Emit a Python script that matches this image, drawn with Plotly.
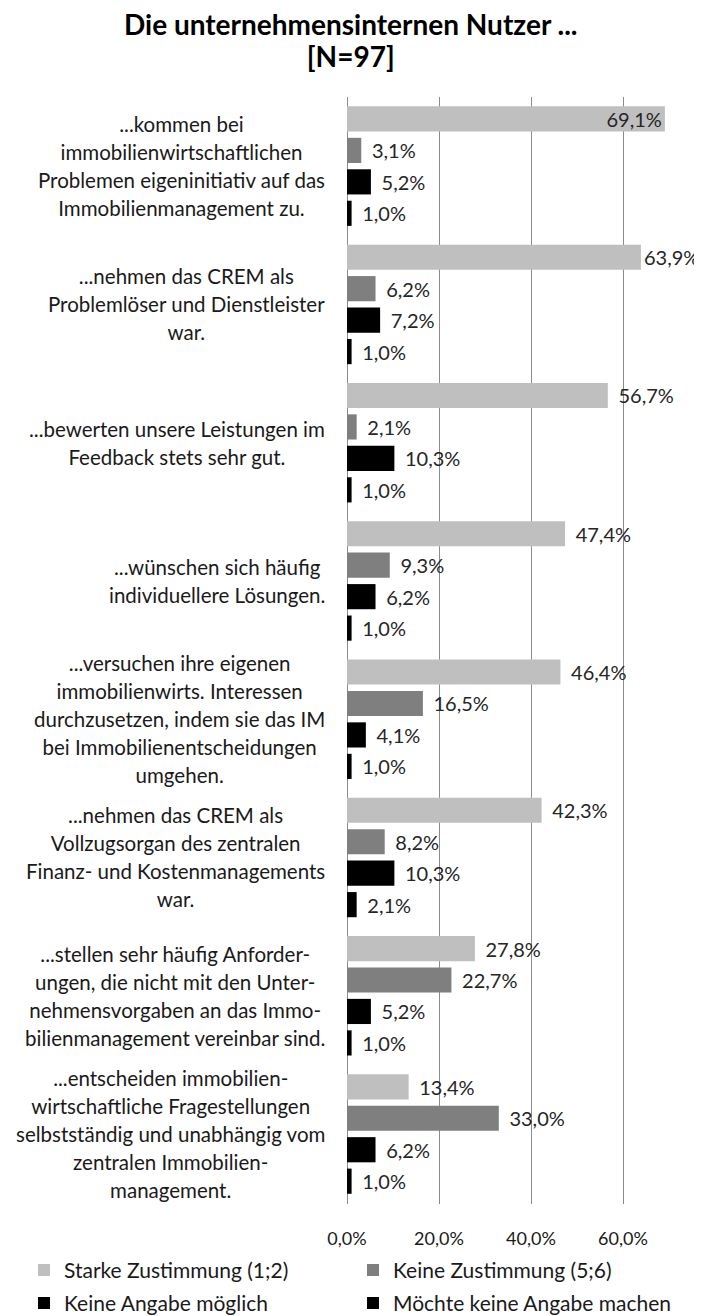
import plotly.graph_objects as go

# categories (top to bottom) and the four answer series, values in percent
categories = [
    "...kommen bei<br>immobilienwirtschaftlichen<br>Problemen eigeninitiativ auf das<br>Immobilienmanagement zu.",
    "...nehmen das CREM als<br>Problemlöser und Dienstleister<br>war.",
    "...bewerten unsere Leistungen im<br>Feedback stets sehr gut.",
    "...wünschen sich häufig<br>individuellere Lösungen.",
    "...versuchen ihre eigenen<br>immobilienwirts. Interessen<br>durchzusetzen, indem sie das IM<br>bei Immobilienentscheidungen<br>umgehen.",
    "...nehmen das CREM als<br>Vollzugsorgan des zentralen<br>Finanz- und Kostenmanagements<br>war.",
    "...stellen sehr häufig Anforder-<br>ungen, die nicht mit den Unter-<br>nehmensvorgaben an das Immo-<br>bilienmanagement vereinbar sind.",
    "...entscheiden immobilien-<br>wirtschaftliche Fragestellungen<br>selbstständig und unabhängig vom<br>zentralen Immobilien-<br>management.",
]

starke_zustimmung = [69.1, 63.9, 56.7, 47.4, 46.4, 42.3, 27.8, 13.4]
keine_zustimmung = [3.1, 6.2, 2.1, 9.3, 16.5, 8.2, 22.7, 33.0]
keine_angabe_moeglich = [5.2, 7.2, 10.3, 6.2, 4.1, 10.3, 5.2, 6.2]
keine_angabe_machen = [1.0, 1.0, 1.0, 1.0, 1.0, 2.1, 1.0, 1.0]

series_names = ["Starke Zustimmung (1;2)", "Keine Zustimmung (5;6)",
                "Keine Angabe möglich", "Möchte keine Angabe machen"]
series_values = [starke_zustimmung, keine_zustimmung, keine_angabe_moeglich, keine_angabe_machen]
series_colors = ["#bfbfbf", "#7f7f7f", "#000000", "#000000"]
series_legend = ["legend", "legend", "legend2", "legend2"]

title_lines = ["Die unternehmensinternen Nutzer ...", "[N=97]"]

FONT = "Lato"
x_max = 70


def sized_lines(lines, size):
    # keep the line pitch of the outer font while drawing the glyphs at `size`
    return "<br>".join(f'<span style="font-size:{size}px">{ln}</span>' for ln in lines)


fig = go.Figure()

for name, values, color, leg in zip(series_names, series_values, series_colors, series_legend):
    # Excel pulls a label back when it would run off the chart area
    positions = ["inside" if v > 0.95 * x_max else "outside" for v in values]
    templates = []
    for v, p in zip(values, positions):
        if p == "inside" or v > 0.85 * x_max:
            templates.append("%{text}")
        else:
            templates.append("\u00a0\u2009%{text}")
    fig.add_trace(go.Bar(
        y=categories, x=values, name=name, orientation="h",
        marker=dict(color=color, line=dict(width=0)),
        text=[f"{v:.1f}%".replace(".", ",") for v in values],
        texttemplate=templates,
        textposition=positions, insidetextanchor="end",
        textfont=dict(family=FONT, size=20, color="#262626"),
        insidetextfont=dict(family=FONT, size=20, color="#262626"),
        outsidetextfont=dict(family=FONT, size=20, color="#262626"),
        constraintext="none", cliponaxis=False, legend=leg,
        hoverinfo="skip",
    ))

# category labels: centred text blocks right-aligned against the axis
for cat in categories:
    fig.add_annotation(
        x=0, xref="paper", y=cat, yref="y", xanchor="right", xshift=-20,
        text=sized_lines(cat.split("<br>"), 20.5),
        align="center", showarrow=False,
        font=dict(family=FONT, size=21.5, color="#1a1a1a"),
    )

# chart title, centred on the page
fig.add_annotation(
    x=(351 - 347) / 322, xref="paper", y=1, yref="paper",
    xanchor="center", yanchor="bottom", yshift=22,
    text="<b>" + sized_lines(title_lines, 28) + "</b>", align="center", showarrow=False,
    font=dict(family=FONT, size=24.6, color="#000000"),
)

legend_common = dict(
    orientation="h", xanchor="left", yanchor="top", x=(24 - 347) / 322,
    entrywidth=284, entrywidthmode="pixels", itemwidth=30,
    font=dict(family=FONT, size=21, color="#1a1a1a"),
    bgcolor="rgba(0,0,0,0)", traceorder="normal",
)

# the page body has an 8px margin, so the figure is laid out 8px in from the window corner;
# it runs a little past the bottom of the window so the legends never push the plot area
fig.update_layout(
    width=694, height=1340,
    margin=dict(l=339, r=33, t=89, b=144),
    paper_bgcolor="white", plot_bgcolor="white",
    separators=",.",
    barmode="group", bargap=0.09, bargroupgap=0.2,
    xaxis=dict(
        range=[0, x_max], dtick=20, tick0=0, tickformat=".1f", ticksuffix="%",
        showgrid=True, gridcolor="#8c8c8c", gridwidth=1,
        zeroline=True, zerolinecolor="#8c8c8c", zerolinewidth=1,
        ticks="outside", ticklen=18, tickcolor="rgba(0,0,0,0)",
        tickfont=dict(family=FONT, size=18, color="#1a1a1a"),
        showline=False, fixedrange=True,
    ),
    yaxis=dict(
        autorange="reversed", showticklabels=False, showgrid=False,
        showline=False, ticks="", fixedrange=True,
    ),
    legend=dict(legend_common, y=-0.0414),
    legend2=dict(legend_common, y=-0.0712),
    showlegend=True,
)

fig.write_html("out.html")
